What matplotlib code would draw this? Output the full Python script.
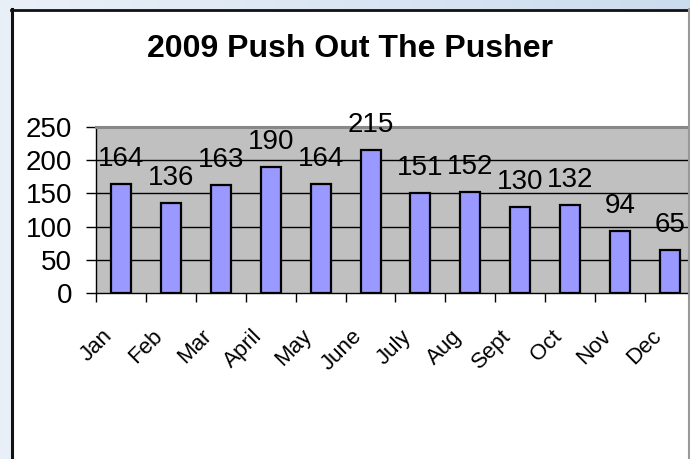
import matplotlib
matplotlib.use("Agg")
import matplotlib.pyplot as plt
import numpy as np
from matplotlib.transforms import ScaledTranslation
from matplotlib.patches import Rectangle
from matplotlib.lines import Line2D
from matplotlib.colors import LinearSegmentedColormap

plt.rcParams['font.family'] = ['Liberation Sans', 'DejaVu Sans']

months = ["Jan", "Feb", "Mar", "April", "May", "June", "July", "Aug", "Sept", "Oct", "Nov", "Dec"]
counts = [164, 136, 163, 190, 164, 215, 151, 152, 130, 132, 94, 65]
y_ticks = [0, 50, 100, 150, 200, 250]
title = "2009 Push Out The Pusher"

W, H, DPI = 690, 459, 100
fig = plt.figure(figsize=(W / DPI, H / DPI), dpi=DPI)

# gradient background
bg = fig.add_axes([0, 0, 1, 1], zorder=-10)
cmap = LinearSegmentedColormap.from_list("bg", ["#eaf0f8", "#cbdcee"])
bg.imshow(np.linspace(0, 1, 256)[None, :], aspect="auto", cmap=cmap, extent=[0, 1, 0, 1])
bg.set_xlim(0, 1)
bg.set_ylim(0, 1)
bg.axis("off")

# white panel with border
px = lambda v: v / W
py = lambda v: 1 - v / H
bg.add_patch(Rectangle((px(11), 0), px(689) - px(11), py(9), facecolor="white", edgecolor="none",
                       transform=fig.transFigure, zorder=1))
fig.add_artist(Line2D([px(12), px(12)], [0, py(9)], color="#111111", lw=2.2, transform=fig.transFigure))
fig.add_artist(Line2D([px(11), px(689)], [py(9.5), py(9.5)], color="#111111", lw=2.0, transform=fig.transFigure))
fig.add_artist(Line2D([px(689), px(689)], [0, py(9)], color="#999999", lw=1.5, transform=fig.transFigure))

# plot area
left, right = 96, 695
top, bottom = 127, 293
ax = fig.add_axes([left / W, 1 - bottom / H, (right - left) / W, (bottom - top) / H])
ax.set_facecolor("#c0c0c0")
x = np.arange(len(months))
ax.bar(x, counts, width=0.4, color="#9999ff", edgecolor="black", linewidth=1.6, zorder=3)
ax.set_xlim(-0.5, len(months) - 0.5)
ax.set_ylim(0, 250)
ax.set_yticks(y_ticks)
ax.set_yticklabels([str(v) for v in y_ticks], fontsize=20)
for yv in y_ticks[1:-1]:
    ax.axhline(yv, color="black", lw=1, zorder=1)

ax.set_xticks(np.arange(-0.5, len(months) + 0.5, 1), minor=False)
ax.set_xticklabels([])
ax.set_xticks(x, minor=True)
ax.set_xticklabels(months, minor=True, fontsize=16, rotation=45, ha="right", va="baseline",
                   rotation_mode="anchor")
ax.tick_params(axis="x", which="major", direction="out", length=6.5, width=1, color="black")
ax.tick_params(axis="x", which="minor", length=0, pad=44 * 0.72)
ax.tick_params(axis="y", direction="out", length=7.2, width=1, pad=10)
off = ScaledTranslation(-8 / DPI, 0, fig.dpi_scale_trans)
for lab in ax.get_xticklabels(minor=True):
    lab.set_transform(lab.get_transform() + off)

for s in ["left", "bottom"]:
    ax.spines[s].set_color("black")
    ax.spines[s].set_linewidth(1)
ax.spines["top"].set_color("#888888")
ax.spines["top"].set_linewidth(2.2)
ax.spines["right"].set_visible(False)

for xi, v in zip(x, counts):
    ax.annotate(str(v), (xi, v), xytext=(0, 13), textcoords="offset points",
                ha="center", va="baseline", fontsize=20, zorder=5)

fig.text(350 / W, 1 - 57 / H, title, ha="center", va="baseline", fontsize=23, fontweight="bold")

fig.savefig("out.png", dpi=DPI)
